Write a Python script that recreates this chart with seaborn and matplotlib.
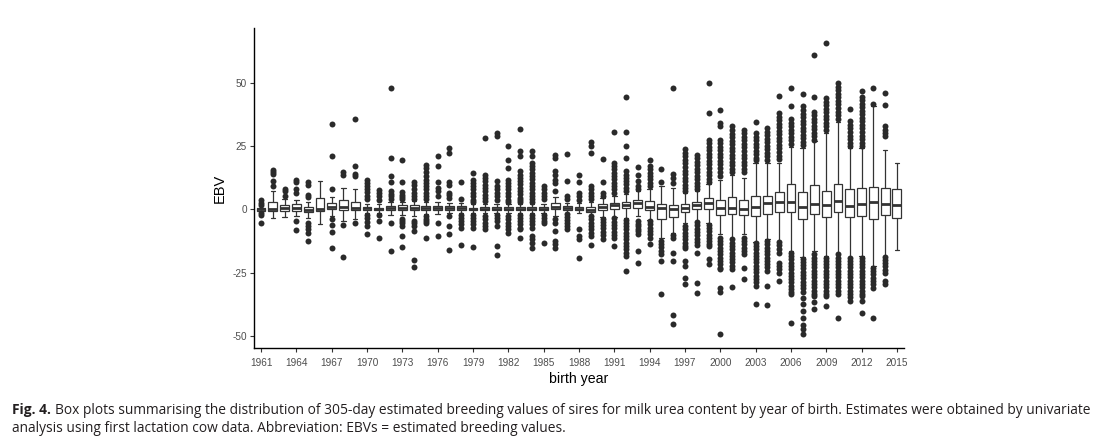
import matplotlib
matplotlib.use("Agg")
import matplotlib.pyplot as plt
import seaborn as sns
import pandas as pd

# birth years (categories)
years = list(range(1961, 2016))

# box statistics, one entry per year
q1 = [-0.4, -0.4, -0.4, -0.7, -1.0, -0.4, 0.0, -0.3, -0.3, -0.3,
      -0.3, -0.2, -0.3, -0.3, -0.3, -0.3, -0.2, -0.3, -0.2, -0.2,
      -0.2, -0.2, -0.2, -0.2, -0.2, 0.0, -0.2, -0.3, -0.9, -0.3,
      0.3, 0.4, 0.7, -0.3, -3.7, -2.9, -1.0, 0.0, 0.3, -2.0,
      -1.6, -2.0, -2.4, -1.6, -1.0, -0.9, -3.7, -1.6, -2.9, -1.0,
      -3.0, -2.4, -3.7, -2.2, -3.3]
med = [0.0, 0.3, 0.7, 0.7, -0.3, 0.3, 0.9, 1.0, 0.7, 0.4,
       0.0, 0.6, 0.6, 0.7, 0.5, 0.6, 0.6, 0.5, 0.2, 0.3,
       0.3, 0.3, 0.3, 0.3, 0.3, 1.0, 0.5, 0.3, -0.1, 0.9,
       1.6, 1.7, 2.6, 1.0, 0.7, 0.3, 0.5, 1.6, 2.4, 0.7,
       0.7, 0.3, 1.0, 2.4, 2.9, 2.9, 1.0, 2.0, 1.6, 3.5,
       1.3, 2.0, 2.9, 2.0, 1.6]
q3 = [0.4, 3.0, 1.7, 2.0, 1.0, 4.6, 2.6, 3.7, 3.0, 1.0,
      0.7, 1.5, 1.6, 1.6, 1.5, 1.5, 1.3, 1.2, 0.6, 0.8,
      0.8, 0.8, 0.8, 0.8, 0.8, 2.4, 1.2, 1.0, 0.8, 2.0,
      2.6, 2.9, 3.9, 3.5, 2.0, 1.6, 2.0, 3.0, 4.6, 3.9,
      4.9, 3.9, 5.5, 5.5, 6.8, 10.2, 7.0, 9.7, 7.5, 10.1,
      8.1, 8.4, 8.8, 8.5, 7.9]
wlo = [-1.0, -3.3, -2.8, -2.6, -3.5, -5.9, -2.5, -4.5, -3.9, -1.5,
       -1.4, -2.0, -2.2, -2.5, -1.8, -1.8, -1.5, -1.5, -1.2, -1.2,
       -1.2, -1.2, -1.2, -1.2, -1.3, -2.5, -1.3, -1.5, -2.5, -3.0,
       -3.0, -3.2, -2.5, -4.0, -11.2, -9.2, -5.5, -4.5, -5.5, -9.8,
       -11.2, -9.8, -12.9, -11.8, -12.5, -16.4, -18.6, -16.4, -18.4, -17.0,
       -18.6, -18.4, -22.3, -18.4, -16.0]
whi = [1.2, 7.5, 4.0, 3.8, 3.0, 11.4, 4.8, 8.3, 7.9, 2.0,
       2.0, 2.8, 3.0, 3.2, 2.8, 3.0, 2.6, 2.4, 2.0, 2.0,
       2.0, 2.0, 2.0, 2.0, 2.2, 4.8, 2.5, 2.5, 3.0, 4.5,
       5.5, 6.3, 7.5, 8.0, 9.2, 8.3, 6.5, 7.2, 10.0, 11.5,
       13.8, 12.3, 18.4, 18.5, 18.4, 24.5, 24.3, 26.9, 30.2, 34.5,
       24.3, 24.3, 40.7, 23.6, 18.2]

# outlying EBVs per year
outliers = [
    [3.9, 2.6, 1.8, -1.3, -2.0, -5.5],  # 1961
    [15.7, 14.9, 14.2, 11.2, 9.2],
    [8.2, 7.4, 5.5],
    [11.8, 10.8, 7.9, 6.6, -4.4, -8.0],
    [11.0, 9.8, 5.9, 5.0, -5.5, -6.6, -7.9, -9.4, -12.5],
    [],  # 1966
    [33.7, 21.3, 7.9, -3.9, -6.2, -8.8, -15.1],
    [14.7, 13.6, -6.2, -18.8],
    [35.7, 17.0, 14.2, 13.4, -5.5],
    [11.6, 10.4, 9.2, 8.0, 6.8, 5.4, 4.0, -2.2, -3.5, -5.0, -6.6, -9.6],
    [7.8, 6.6, 5.4, 3.9, -2.2, -4.6, -11.3],  # 1971
    [47.8, 20.3, 13.4, 10.8, 7.2, 6.3, 5.2, 4.2, -5.5, -16.4],
    [19.7, 10.8, 6.8, 5.9, 5.0, 4.2, -3.7, -4.6, -5.5, -6.6, -10.5, -14.8],
    [10.8, 9.6, 7.9, 6.6, 5.2, 4.2, -4.6, -5.5, -6.6, -8.5, -20.1, -22.7],
    [17.5, 16.4, 14.7, 13.1, 11.8, 10.5, 9.2, 7.9, 6.6, 5.4, 4.2,
     -2.6, -3.6, -4.6, -5.4, -11.2],
    [21.3, 17.1, 10.9, 8.5, 7.2, 5.2, -5.2, -10.5],  # 1976
    [24.3, 22.3, 10.9, 9.5, 6.6, 5.6, 4.4, -2.6, -6.5, -9.6, -16.1],
    [10.9, 4.3, -2.2, -3.3, -4.6, -5.9, -7.4, -14.0],
    [14.4, 11.8, 10.5, 9.2, 7.9, 6.6, 5.2, 3.9, 3.0,
     -2.0, -3.3, -4.6, -5.9, -7.2, -14.8],
    [28.2, 13.8, 12.5, 11.2, 9.8, 8.5, 7.2, 5.9, 4.6, 3.3,
     -2.6, -3.9, -5.2, -6.5, -7.6],
    [30.2, 28.9, 11.2, 9.2, 7.9, 6.6, 5.2, 3.9,
     -2.0, -3.3, -4.6, -6.6, -14.4, -18.1],  # 1981
    [24.9, 19.7, 16.4, 11.8, 10.5, 9.2, 7.9, 6.6, 5.2, 3.9, 2.8,
     -2.6, -3.9, -5.2, -6.5, -7.9, -9.2],
    [31.9, 23.0, 21.0, 15.1, 13.8, 12.5, 11.2, 9.9, 8.6, 7.3, 6.0, 4.7, 3.9, 3.0,
     -2.0, -3.3, -4.6, -5.9, -7.2, -7.9, -11.4],
    [23.0, 21.0, 18.4, 17.1, 15.8, 14.5, 13.2, 11.9, 10.6, 9.3, 8.0, 6.7, 5.4, 4.1, 3.0,
     -2.0, -3.3, -4.6, -5.9, -7.2, -10.5, -11.8, -13.1, -15.1],
    [9.2, 7.9, 6.6, 5.2, 4.0, -2.0, -3.3, -4.6, -5.2, -13.4],
    [21.7, 20.3, 15.1, 13.8, 11.8, 10.5, 7.2,
     -3.9, -5.2, -8.5, -12.5, -13.8, -15.1],  # 1986
    [21.9, 11.2, 5.2, 4.3, -1.9, -3.0, -4.2, -5.4, -6.6, -7.6],
    [13.5, 10.9, 6.6, 5.2, 3.9, -7.9, -10.5, -11.8, -19.3],
    [26.6, 25.2, 22.3, 9.2, 7.9, 6.6, 5.2, 4.0,
     -2.6, -3.9, -5.2, -6.5, -7.8, -9.1, -10.5, -14.0],
    [19.9, 10.9, 6.6, 5.2, -3.6, -4.9, -6.2, -7.5, -8.8, -10.1, -11.8],
    [30.6, 18.4, 17.1, 15.8, 14.5, 13.2, 11.9, 10.6, 9.3, 8.0, 6.7,
     -3.5, -4.8, -6.1, -7.4, -8.7, -10.0, -11.3, -14.4],  # 1991
    [44.6, 30.6, 24.9, 20.3, 15.1, 13.8, 12.5, 11.2, 9.9, 8.6, 7.3,
     -4.0, -5.3, -6.6, -7.9, -9.2, -10.5, -11.8, -13.1, -14.4, -15.7, -17.0, -18.4, -24.3],
    [16.7, 13.8, 11.2, 9.2, 8.2, -4.6, -5.6, -6.6, -7.6, -8.6, -9.8, -16.4, -21.0],
    [19.7, 17.1, 15.8, 14.5, 13.2, 11.9, 10.6, 9.3,
     -4.6, -5.9, -7.2, -8.5, -9.8, -11.2, -13.8],
    [16.0, 10.8, -12.4, -13.6, -14.9, -16.4, -17.6, -20.5, -33.3],
    [47.9, 14.2, 12.5, 10.5, -9.9, -11.2, -17.3, -20.5, -41.5, -45.3],  # 1996
    [23.9, 22.4, 21.0, 19.6, 18.2, 16.8, 15.4, 14.0, 12.6, 11.2, 9.8, 8.5, 7.2,
     -6.6, -7.9, -9.2, -10.5, -11.8, -13.1, -14.4, -15.1, -20.5, -22.5, -27.0, -29.3],
    [21.7, 20.3, 18.9, 17.5, 16.1, 14.7, 13.3, 11.9, 10.5, 9.1, 7.9,
     -5.0, -6.3, -7.6, -8.9, -10.2, -11.5, -12.8, -14.1, -17.1, -29.0, -32.8],
    [49.9, 38.1, 27.6, 26.2, 24.8, 23.4, 22.0, 20.6, 19.2, 17.8, 16.4, 15.0, 13.6, 12.2, 11.0,
     -6.0, -7.3, -8.6, -9.9, -11.2, -12.5, -13.8, -14.6, -19.7, -21.7],
    [39.4, 34.1, 32.8, 27.6, 26.2, 24.8, 23.4, 22.0, 20.6, 19.2, 17.8, 16.4, 15.0, 13.4,
     -11.2, -12.5, -13.8, -15.1, -16.4, -17.7, -19.0, -20.3, -21.6, -23.0, -23.6,
     -31.0, -32.6, -49.2],
    [32.8, 31.4, 30.0, 28.6, 27.2, 25.8, 24.4, 23.0, 21.6, 20.2, 18.8, 17.4, 16.0, 14.8,
     -11.8, -13.1, -14.4, -15.7, -17.0, -18.3, -19.6, -20.9, -22.3, -23.6, -30.5],  # 2001
    [31.5, 30.1, 28.7, 27.3, 25.9, 24.5, 23.1, 21.7, 20.3, 18.9, 17.5, 16.1, 15.0,
     -11.2, -12.5, -13.8, -15.1, -16.4, -17.4, -23.0, -27.6],
    [34.5, 30.2, 28.8, 27.4, 26.0, 24.6, 23.2, 21.8, 20.4, 19.7,
     -13.1, -14.4, -15.7, -17.0, -18.3, -19.6, -20.9, -22.2, -23.5, -24.8, -26.1,
     -27.4, -28.7, -30.2, -37.4],
    [32.2, 30.8, 29.4, 28.0, 26.6, 25.2, 23.8, 22.4, 21.0, 19.7,
     -12.5, -13.8, -15.1, -16.4, -17.7, -19.0, -20.3, -21.6, -22.9, -24.3, -30.2, -37.8],
    [44.9, 38.1, 36.7, 35.3, 33.9, 32.5, 31.1, 29.7, 28.3, 26.9, 25.5, 24.1, 22.7, 21.3, 19.9,
     -12.9, -14.2, -15.5, -17.0, -21.0, -22.3, -23.6, -24.9, -28.2],
    [47.9, 40.9, 35.7, 34.3, 32.9, 31.5, 30.1, 28.7, 27.3, 25.9,
     -17.1, -18.4, -19.7, -21.0, -22.3, -23.6, -24.9, -26.2, -27.5, -28.8, -30.1,
     -31.4, -32.7, -33.5, -44.9],  # 2006
    [45.7, 40.7, 39.3, 37.9, 36.5, 35.1, 33.7, 32.3, 30.9, 29.5, 28.1, 26.7, 25.3,
     -19.4, -20.7, -22.0, -23.3, -24.6, -25.9, -27.2, -28.5, -29.8, -31.0, -32.4,
     -35.0, -37.5, -40.0, -43.0, -45.7, -47.2, -49.2],
    [61.0, 44.4, 38.7, 37.3, 35.9, 34.5, 33.1, 31.7, 30.3, 28.9, 27.6,
     -17.7, -19.0, -20.3, -21.6, -22.9, -24.2, -25.5, -26.8, -28.1, -29.4, -30.7,
     -32.0, -33.3, -34.1, -36.7, -39.4],
    [65.6, 44.0, 42.6, 41.2, 39.8, 38.4, 37.0, 35.6, 34.2, 32.8, 31.5,
     -19.0, -20.3, -21.6, -22.9, -24.2, -25.5, -26.8, -28.1, -29.4, -30.7, -32.0,
     -33.3, -34.1, -38.0],
    [49.9, 48.5, 47.1, 45.7, 44.3, 42.9, 41.5, 40.1, 38.7, 37.3, 35.9,
     -17.7, -19.0, -20.3, -21.6, -22.9, -24.2, -25.5, -26.8, -28.1, -29.4, -30.7,
     -32.0, -33.5, -42.9],
    [39.6, 34.8, 33.4, 32.0, 30.6, 29.2, 27.8, 26.4, 25.0,
     -19.0, -20.3, -21.6, -22.9, -24.2, -25.5, -26.8, -28.1, -29.4, -30.7, -32.0,
     -33.3, -34.6, -36.0],  # 2011
    [46.9, 44.6, 43.2, 41.8, 40.4, 39.0, 37.6, 36.2, 34.8, 33.4, 32.0, 30.6, 29.2, 27.8,
     26.4, 25.0,
     -19.0, -20.3, -21.6, -22.9, -24.2, -25.5, -26.8, -28.1, -29.4, -30.7, -32.0,
     -33.3, -34.1, -36.0, -40.7],
    [47.9, 41.6, -23.0, -24.3, -25.6, -26.9, -28.2, -29.5, -31.0, -43.0],
    [46.2, 41.3, 32.8, 31.5, 30.2, 28.9,
     -18.6, -19.9, -21.2, -22.5, -23.8, -24.9, -28.2, -29.5],
    [],  # 2015
]

xtick_years = [str(y) for y in years[::3]]

caption_bold = "Fig. 4."
caption_line1 = ("Box plots summarising the distribution of 305-day estimated breeding values "
                 "of sires for milk urea content by year of birth. Estimates were obtained by univariate")
caption_line2 = "analysis using first lactation cow data. Abbreviation: EBVs = estimated breeding values."

# build long tables: five values per year reproduce the box exactly
box_rows = []
for i, y in enumerate(years):
    for v in (wlo[i], q1[i], med[i], q3[i], whi[i]):
        box_rows.append({"year": y, "EBV": v})
box_df = pd.DataFrame(box_rows)

out_rows = []
for i, y in enumerate(years):
    for v in outliers[i]:
        out_rows.append({"year": y, "EBV": v})
out_df = pd.DataFrame(out_rows)

sns.set_style("ticks")
plt.rcParams["font.family"] = ["Liberation Sans", "DejaVu Sans"]
plt.rcParams["axes.unicode_minus"] = False

fig = plt.figure(figsize=(11.16, 4.37), dpi=100)
ax = fig.add_axes([0.2276, 0.2037, 0.5824, 0.7323])

sns.boxplot(data=box_df, x="year", y="EBV", order=years, whis=(0, 100),
            showfliers=False, width=0.75, color="white", linecolor="#333333",
            linewidth=0.9, ax=ax,
            medianprops={"linewidth": 2.0, "color": "#333333"})
sns.stripplot(data=out_df, x="year", y="EBV", order=years, jitter=False,
              color="#2a2a2a", size=4.3, linewidth=0, ax=ax, zorder=3)

ax.set_xlim(-0.6, len(years) - 0.4)
ax.set_ylim(-54.7, 71.7)
ax.set_yticks([-50, -25, 0, 25, 50])
ax.set_xticks(range(0, len(years), 3))
ax.set_xticklabels(xtick_years)

ax.set_xlabel("birth year", fontsize=10.2, color="black", labelpad=3)
ax.set_ylabel("EBV", fontsize=10.5, color="black", labelpad=4)
ax.tick_params(axis="both", length=3, width=0.8, color="#333333",
               labelsize=7.2, labelcolor="#4d4d4d")
ax.tick_params(axis="x", pad=4)
ax.tick_params(axis="y", pad=2)
sns.despine(ax=ax)
for s in ["left", "bottom"]:
    ax.spines[s].set_linewidth(1.0)
    ax.spines[s].set_color("black")

# caption
cap_font = ["Open Sans", "DejaVu Sans"]
fig.canvas.draw()
t1 = fig.text(12 / 1116, 1 - 414 / 437, caption_bold, fontsize=9.9, fontweight="bold",
              family=cap_font, color="#231f20", va="baseline")
fig.canvas.draw()
bb = t1.get_window_extent()
fig.text((bb.x1 + 4) / 1116, 1 - 414 / 437, caption_line1, fontsize=9.9,
         family=cap_font, color="#231f20", va="baseline")
fig.text(12 / 1116, 1 - 432 / 437, caption_line2, fontsize=9.9,
         family=cap_font, color="#231f20", va="baseline")

fig.savefig("out.png", dpi=100)
